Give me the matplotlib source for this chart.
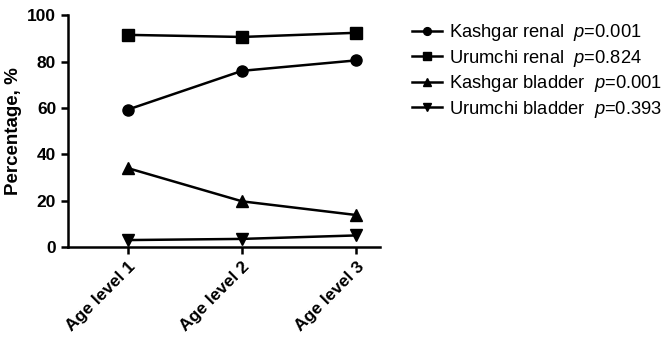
import matplotlib
matplotlib.use("Agg")
import matplotlib.pyplot as plt

plt.rcParams['font.family'] = ['Liberation Sans', 'DejaVu Sans']
plt.rcParams['mathtext.fontset'] = 'custom'
plt.rcParams['mathtext.it'] = 'Liberation Sans:italic'
plt.rcParams['mathtext.rm'] = 'Liberation Sans'

levels = ["Age level 1", "Age level 2", "Age level 3"]
kashgar_renal = [59.3, 76.0, 80.5]
urumchi_renal = [91.5, 90.6, 92.4]
kashgar_bladder = [34.0, 19.7, 13.8]
urumchi_bladder = [3.0, 3.5, 5.0]

labels = ["Kashgar renal  $p$=0.001", "Urumchi renal  $p$=0.824",
          "Kashgar bladder  $p$=0.001", "Urumchi bladder  $p$=0.393"]

fig = plt.figure(figsize=(6.7, 3.37), dpi=100)
ax = fig.add_axes([0.1015, 0.267, 0.466, 0.688])

x = range(len(levels))
ax.plot(x, kashgar_renal, 'k-', marker='o', ms=8, lw=1.8, label=labels[0])
ax.plot(x, urumchi_renal, 'k-', marker='s', ms=8, lw=1.8, label=labels[1])
ax.plot(x, kashgar_bladder, 'k-', marker='^', ms=8, lw=1.8, label=labels[2])
ax.plot(x, urumchi_bladder, 'k-', marker='v', ms=8, lw=1.8, label=labels[3])

ax.set_ylim(0, 100)
ax.set_xlim(-0.526, 2.21)
ax.set_yticks([0, 20, 40, 60, 80, 100])
ax.set_xticks(list(x))
ax.set_xticklabels(levels, rotation=45, ha='right', rotation_mode='anchor')
for lab in ax.get_xticklabels() + ax.get_yticklabels():
    lab.set_fontweight('bold')
    lab.set_fontsize(12.5)
ax.set_ylabel("Percentage, %", fontsize=13.5, fontweight='bold', labelpad=4)

ax.spines['top'].set_visible(False)
ax.spines['right'].set_visible(False)
ax.spines['left'].set_linewidth(1.8)
ax.spines['bottom'].set_linewidth(1.8)
ax.tick_params(width=1.8, length=5)

ax.legend(loc='upper left', bbox_to_anchor=(1.05, 1.04), frameon=False,
          fontsize=13.2, handlelength=1.6, markerscale=0.7, labelspacing=0.24,
          handletextpad=0.4)

plt.savefig("out.png", dpi=100)
